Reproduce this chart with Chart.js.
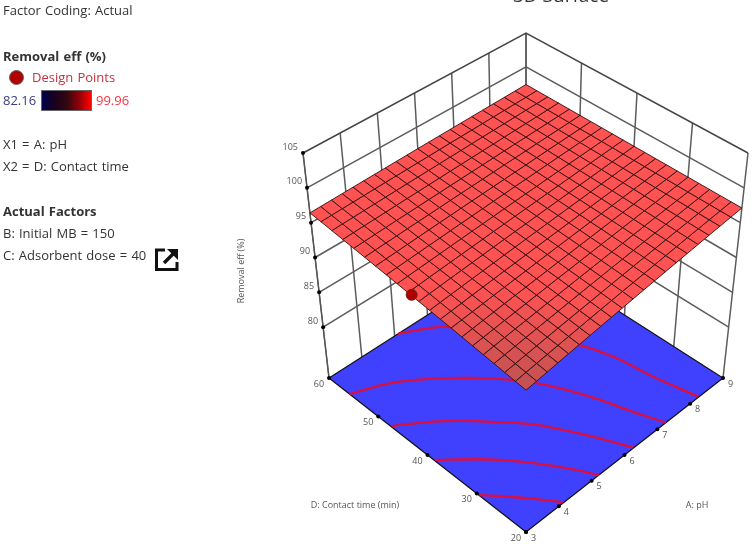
<!DOCTYPE html>
<html>
<head>
<meta charset="utf-8">
<title>3D Surface</title>
<script src="https://cdn.jsdelivr.net/npm/chart.js@4"></script>
<style>
    html, body { margin: 0; padding: 0; background: #fff; }
    #page { position: relative; width: 752px; height: 544px; overflow: hidden; font-family: "Open Sans", sans-serif; color: #333; }
    #surfaceChart { position: absolute; left: 0; top: 0; filter: blur(0.4px); }
    .t { position: absolute; font-size: 13px; line-height: 18px; white-space: nowrap; word-spacing: 0.8px; }
    .b { font-weight: 700; }
    #bar { position: absolute; left: 41px; top: 90px; width: 49px; height: 19px; border: 1px solid #666;
        background: linear-gradient(to right, #00004c 0%, #1a0020 25%, #300810 50%, #900008 75%, #ff0000 100%); }
    #dot { position: absolute; left: 9px; top: 70px; width: 13px; height: 13px; border-radius: 50%; background: #b00000; border: 1px solid #666; }
    #title { position: absolute; left: 513px; top: -17px; font-size: 19px; line-height: 24px; white-space: nowrap; color: #333; }
    #icon { position: absolute; left: 154px; top: 247px; }
</style>
</head>
<body>
<div id="page">
    <canvas id="surfaceChart" width="752" height="544"></canvas>
    <div id="title">3D Surface</div>
    <div class="t" style="left:3px;top:1px">Factor Coding: Actual</div>
    <div class="t b" style="left:3px;top:47px">Removal eff (%)</div>
    <div id="dot"></div>
    <div class="t" style="left:32px;top:68px;color:#c8303c">Design Points</div>
    <div class="t" style="left:3px;top:91px;color:#3c3c80">82.16</div>
    <div id="bar"></div>
    <div class="t" style="left:96px;top:91px;color:#ff3040">99.96</div>
    <div class="t" style="left:3px;top:135px">X1 = A: pH</div>
    <div class="t" style="left:3px;top:157px">X2 = D: Contact time</div>
    <div class="t b" style="left:3px;top:202px">Actual Factors</div>
    <div class="t" style="left:3px;top:224px">B: Initial MB = 150</div>
    <div class="t" style="left:3px;top:246px">C: Adsorbent dose = 40</div>
    <svg id="icon" width="25" height="25" viewBox="0 0 25 25">
        <path d="M11 3H2.5V22.5H23V15" fill="none" stroke="#111" stroke-width="3"/>
        <path d="M10 16L19 7" fill="none" stroke="#111" stroke-width="3.4"/>
        <path d="M13 2H24V13Z" fill="#111"/>
    </svg>
</div>
<script>
// tick labels
const phTicks = [3, 4, 5, 6, 7, 8, 9];
const timeTicks = [20, 30, 40, 50, 60];
const removalTicks = [80, 85, 90, 95, 100, 105];
const removalFloor = 72.7;

// grid of the response surface, rows are contact time, columns are pH
const surfacePh = [3, 3.3, 3.6, 3.9, 4.2, 4.5, 4.8, 5.1, 5.4, 5.7, 6, 6.3, 6.6, 6.9, 7.2, 7.5, 7.8, 8.1, 8.4, 8.7, 9];
const surfaceTime = [20, 22, 24, 26, 28, 30, 32, 34, 36, 38, 40, 42, 44, 46, 48, 50, 52, 54, 56, 58, 60];
const surfaceRemoval = [
    [92.70,92.92,93.14,93.36,93.58,93.80,94.02,94.24,94.46,94.68,94.90,95.12,95.34,95.56,95.78,96.00,96.22,96.44,96.66,96.88,97.10],
    [92.89,93.10,93.31,93.52,93.73,93.94,94.15,94.37,94.58,94.79,95.00,95.21,95.42,95.63,95.85,96.06,96.27,96.48,96.69,96.90,97.12],
    [93.07,93.27,93.48,93.68,93.88,94.09,94.29,94.49,94.69,94.90,95.10,95.30,95.51,95.71,95.91,96.12,96.32,96.52,96.72,96.93,97.13],
    [93.26,93.45,93.64,93.84,94.03,94.23,94.42,94.62,94.81,95.01,95.20,95.40,95.59,95.78,95.98,96.17,96.37,96.56,96.76,96.95,97.15],
    [93.44,93.63,93.81,94.00,94.18,94.37,94.56,94.74,94.93,95.11,95.30,95.49,95.67,95.86,96.04,96.23,96.42,96.60,96.79,96.97,97.16],
    [93.63,93.80,93.98,94.16,94.34,94.51,94.69,94.87,95.05,95.22,95.40,95.58,95.76,95.93,96.11,96.29,96.47,96.64,96.82,97.00,97.18],
    [93.81,93.98,94.15,94.32,94.49,94.66,94.82,94.99,95.16,95.33,95.50,95.67,95.84,96.01,96.18,96.35,96.51,96.68,96.85,97.02,97.19],
    [94.00,94.16,94.32,94.48,94.64,94.80,94.96,95.12,95.28,95.44,95.60,95.76,95.92,96.08,96.24,96.40,96.56,96.72,96.88,97.04,97.21],
    [94.18,94.33,94.48,94.64,94.79,94.94,95.09,95.24,95.40,95.55,95.70,95.85,96.00,96.16,96.31,96.46,96.61,96.76,96.92,97.07,97.22],
    [94.37,94.51,94.65,94.80,94.94,95.08,95.23,95.37,95.51,95.66,95.80,95.94,96.09,96.23,96.37,96.52,96.66,96.80,96.95,97.09,97.24],
    [94.55,94.69,94.82,94.96,95.09,95.23,95.36,95.50,95.63,95.77,95.90,96.04,96.17,96.31,96.44,96.58,96.71,96.85,96.98,97.12,97.25],
    [94.74,94.86,94.99,95.12,95.24,95.37,95.49,95.62,95.75,95.87,96.00,96.13,96.25,96.38,96.51,96.63,96.76,96.89,97.01,97.14,97.27],
    [94.92,95.04,95.16,95.27,95.39,95.51,95.63,95.75,95.86,95.98,96.10,96.22,96.34,96.45,96.57,96.69,96.81,96.93,97.04,97.16,97.28],
    [95.11,95.21,95.32,95.43,95.54,95.65,95.76,95.87,95.98,96.09,96.20,96.31,96.42,96.53,96.64,96.75,96.86,96.97,97.08,97.19,97.30],
    [95.29,95.39,95.49,95.59,95.69,95.80,95.90,96.00,96.10,96.20,96.30,96.40,96.50,96.60,96.70,96.81,96.91,97.01,97.11,97.21,97.31],
    [95.48,95.57,95.66,95.75,95.85,95.94,96.03,96.12,96.22,96.31,96.40,96.49,96.59,96.68,96.77,96.86,96.96,97.05,97.14,97.23,97.33],
    [95.66,95.74,95.83,95.91,96.00,96.08,96.16,96.25,96.33,96.42,96.50,96.58,96.67,96.75,96.84,96.92,97.00,97.09,97.17,97.26,97.34],
    [95.85,95.92,96.00,96.07,96.15,96.22,96.30,96.37,96.45,96.52,96.60,96.68,96.75,96.83,96.90,96.98,97.05,97.13,97.20,97.28,97.36],
    [96.03,96.10,96.16,96.23,96.30,96.37,96.43,96.50,96.57,96.63,96.70,96.77,96.83,96.90,96.97,97.04,97.10,97.17,97.24,97.30,97.37],
    [96.22,96.27,96.33,96.39,96.45,96.51,96.57,96.62,96.68,96.74,96.80,96.86,96.92,96.98,97.03,97.09,97.15,97.21,97.27,97.33,97.39],
    [96.40,96.45,96.50,96.55,96.60,96.65,96.70,96.75,96.80,96.85,96.90,96.95,97.00,97.05,97.10,97.15,97.20,97.25,97.30,97.35,97.40]
];

// contour lines on the floor, [pH, contact time]
const contour1 = [[3.01,29.5],[3.31,27.35],[3.72,24.0],[4.14,20.1]];
const contour2 = [[3.02,38.6],[3.69,34.6],[4.04,32.2],[4.44,28.8],[4.88,24.3],[5.22,20.0]];
const contour3 = [[3.02,47.4],[3.73,44.3],[4.27,41.2],[4.81,37.4],[5.28,33.7],[5.65,29.4],[5.98,24.9],[6.28,20.1]];
const contour4 = [[3.0,55.8],[3.89,53.6],[4.69,50.1],[5.34,46.3],[5.89,42.2],[6.2,39.2],[6.51,35.1],[6.79,30.2],[7.02,25.0],[7.26,20.0]];
const contour5 = [[5.1,60],[5.61,58.3],[6.04,56.4],[6.6,50],[7.2,45],[7.69,40],[7.93,34.4],[8.04,28.4],[8.26,20.1]];
const contours = [contour1, contour2, contour3, contour4, contour5];

// design point [pH, time, removal]
const designPoint = [3, 41.3, 94.8];

// box corners on the page: [pH end, time end] at floor and at the 105 level
const boxFloor = { front: [526, 532], right: [723, 378], left: [329, 378], back: [526, 252] };
const boxTop = { front: [526, 303], right: [748, 153], left: [303, 153], back: [526, 33] };

function mix(c, u, v, i) {
    return c.front[i] * (1 - u) * (1 - v) + c.right[i] * u * (1 - v) + c.left[i] * (1 - u) * v + c.back[i] * u * v;
}

// 3D value -> plane position, the chart scales do the rest
function project(ph, time, removal) {
    const u = (ph - 3) / 6;
    const v = (time - 20) / 40;
    const w = (removal - removalFloor) / (105 - removalFloor);
    return {
        x: mix(boxFloor, u, v, 0) * (1 - w) + mix(boxTop, u, v, 0) * w,
        y: mix(boxFloor, u, v, 1) * (1 - w) + mix(boxTop, u, v, 1) * w
    };
}

function lineSet(data, color, width) {
    return { data: data, showLine: true, borderColor: color, borderWidth: width, pointRadius: 0, fill: false };
}

function polygonSet(data, fillColor, lineColor, width) {
    return { data: data, showLine: true, borderColor: lineColor, borderWidth: width, backgroundColor: fillColor, pointRadius: 0, fill: 'shape' };
}

function surfaceColor(z) {
    const r = Math.min(255, Math.round(190 + (z - 92.7) * 31));
    return 'rgb(' + r + ',' + 82 + ',' + 82 + ')';
}

// paint order, first one goes at the back
const layers = [];

// back walls
const wallBottom = removalFloor;
phTicks.forEach(function(ph) {
    layers.push(lineSet([project(ph, 60, wallBottom), project(ph, 60, 105)], '#5c5c5c', 1.5));
});
timeTicks.forEach(function(t) {
    layers.push(lineSet([project(9, t, wallBottom), project(9, t, 105)], '#5c5c5c', 1.5));
});
layers.push(lineSet([project(3, 60, wallBottom), project(3, 60, 105)], '#555', 1.2));
removalTicks.forEach(function(z) {
    layers.push(lineSet([project(3, 60, z), project(9, 60, z), project(9, 20, z)], z === 105 ? '#444' : '#5c5c5c', 1.5));
});

// floor
layers.push(polygonSet([
    project(3, 20, wallBottom), project(9, 20, wallBottom), project(9, 60, wallBottom), project(3, 60, wallBottom), project(3, 20, wallBottom)
], '#4040ff', '#111', 1.2));

contours.forEach(function(c) {
    const set = lineSet(c.map(function(p) { return project(p[0], p[1], wallBottom); }), '#dc0f3c', 2.3);
    set.tension = 0.35;
    layers.push(set);
});

// surface cells
for (let r = 0; r < surfaceTime.length - 1; r++) {
    for (let c = 0; c < surfacePh.length - 1; c++) {
        const z00 = surfaceRemoval[r][c], z01 = surfaceRemoval[r][c + 1];
        const z10 = surfaceRemoval[r + 1][c], z11 = surfaceRemoval[r + 1][c + 1];
        const p0 = project(surfacePh[c], surfaceTime[r], z00);
        layers.push(polygonSet([
            p0,
            project(surfacePh[c + 1], surfaceTime[r], z01),
            project(surfacePh[c + 1], surfaceTime[r + 1], z11),
            project(surfacePh[c], surfaceTime[r + 1], z10),
            p0
        ], surfaceColor((z00 + z01 + z10 + z11) / 4), 'rgba(50,15,15,0.9)', 1));
    }
}

// tick dots
const tickDots = [];
removalTicks.forEach(function(z) { tickDots.push(project(3, 60, z)); });
timeTicks.forEach(function(t) { tickDots.push(project(3, t, wallBottom)); });
phTicks.forEach(function(ph) { tickDots.push(project(ph, 20, wallBottom)); });
layers.push({ data: tickDots, showLine: false, pointRadius: 2, pointBackgroundColor: '#000', pointBorderWidth: 0 });

layers.push({
    data: [project(designPoint[0], designPoint[1], designPoint[2])],
    showLine: false, pointRadius: 5.5, pointBackgroundColor: '#b00000', pointBorderColor: '#6a2020', pointBorderWidth: 1
});

// axis texts go on the canvas, placed from the same scales
const axisText = {
    id: 'axisText',
    afterDatasetsDraw: function(chart) {
        const ctx = chart.ctx;
        const sx = chart.scales.x, sy = chart.scales.y;
        function put(p, dx, dy, text) {
            ctx.fillText(text, sx.getPixelForValue(p.x) + dx, sy.getPixelForValue(p.y) + dy);
        }
        ctx.save();
        ctx.font = '9px "Open Sans", sans-serif';
        ctx.fillStyle = '#555';
        ctx.textBaseline = 'middle';
        ctx.textAlign = 'right';
        removalTicks.forEach(function(z) { put(project(3, 60, z), -5, -6, String(z)); });
        ctx.textAlign = 'center';
        timeTicks.forEach(function(t) { put(project(3, t, wallBottom), -10, 6, String(t)); });
        phTicks.forEach(function(ph) { put(project(ph, 20, wallBottom), 7.5, 6, String(ph)); });
        ctx.fillText('D: Contact time (min)', 355, 505);
        ctx.fillText('A: pH', 697, 505);
        ctx.translate(241, 271);
        ctx.rotate(-Math.PI / 2);
        ctx.fillText('Removal eff (%)', 0, 0);
        ctx.restore();
    }
};

new Chart(document.getElementById('surfaceChart'), {
    type: 'scatter',
    data: { datasets: layers.slice().reverse() },
    options: {
        responsive: false,
        animation: false,
        events: [],
        layout: { padding: 0, autoPadding: false },
        plugins: { legend: { display: false }, tooltip: { enabled: false } },
        scales: {
            x: { type: 'linear', display: false, min: 0, max: 752 },
            y: { type: 'linear', display: false, min: 0, max: 544, reverse: true }
        }
    },
    plugins: [axisText]
});
</script>
</body>
</html>
